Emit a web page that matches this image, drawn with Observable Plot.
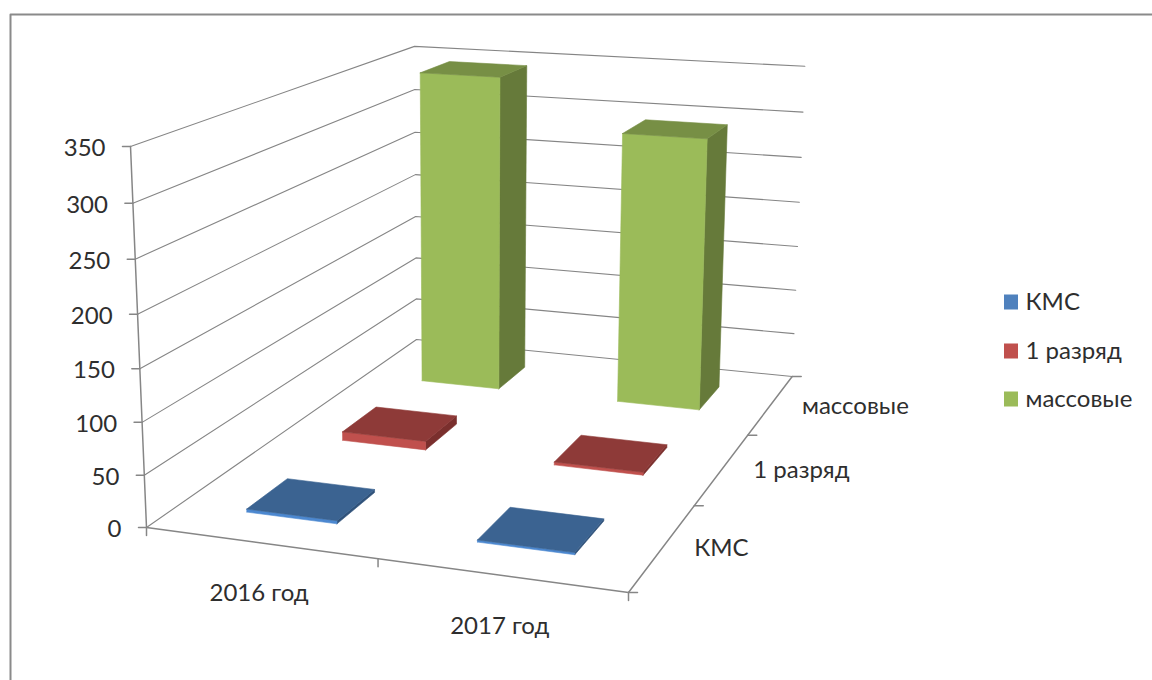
<!DOCTYPE html>
<html>
<head>
<meta charset="utf-8">
<script src="https://cdn.jsdelivr.net/npm/d3@7"></script>
<script src="https://cdn.jsdelivr.net/npm/@observablehq/plot@0.6"></script>
<style>html,body{margin:0;padding:0;background:#fff}svg{display:block}</style>
</head>
<body>
<div id="chart"></div>
<script>
// Data
const years = ["2016 год", "2017 год"];
const series = ["КМС", "1 разряд", "массовые"];
const kms = [3, 2];
const razryad = [9, 3];
const massovye = [345, 293];
const valueTicks = [0, 50, 100, 150, 200, 250, 300, 350];
const valueMax = 350;
const values = [kms, razryad, massovye];

// Styling
const faceColors = [
  {top: "#3b6391", front: "#4c88d0", side: "#30527a", key: "#4f81bd"},
  {top: "#8e3a38", front: "#c0504d", side: "#7a2f2d", key: "#c0504d"},
  {top: "#778f45", front: "#9bbb59", side: "#667a3a", key: "#9bbb59"}
];
const ink = "#2e2e2e";
const lineGrey = "#858585";
const font = "Lato, 'Open Sans', sans-serif";
const fontSize = 24;

// Camera: floor corners and the vanishing point of the vertical axis, in page pixels
const [p0, p1, p2, p3] = [[146, 527], [628, 592], [791.7, 376], [416, 339]];
const vanish = [470, 8250];
const frontTopY = 146;

const dx1 = p1[0] - p2[0], dx2 = p3[0] - p2[0], sx = p0[0] - p1[0] + p2[0] - p3[0];
const dy1 = p1[1] - p2[1], dy2 = p3[1] - p2[1], sy = p0[1] - p1[1] + p2[1] - p3[1];
const den = dx1 * dy2 - dx2 * dy1;
const g = (sx * dy2 - dx2 * sy) / den, h = (dx1 * sy - sx * dy1) / den;
const a = p1[0] - p0[0] + g * p1[0], b = p3[0] - p0[0] + h * p3[0];
const d = p1[1] - p0[1] + g * p1[1], e = p3[1] - p0[1] + h * p3[1];
const k = (frontTopY - p0[1]) / (vanish[1] - frontTopY);

function project(u, v, value) {
  const t = value / valueMax;
  const w = g * u + h * v + 1 + t * k;
  return {
    x: (a * u + b * v + p0[0] + t * k * vanish[0]) / w,
    y: (d * u + e * v + p0[1] + t * k * vanish[1]) / w
  };
}

const uBand = d3.scaleBand(years, [0, 1]).paddingInner(0.6).paddingOuter(0.3);
const vBand = d3.scaleBand(series, [0, 1]).paddingInner(0.6).paddingOuter(0.3);

const marks = [];
const path = (pts, opts) => marks.push(Plot.line(pts, {x: "x", y: "y", ...opts}));
const face = (pts, fill) => path([...pts, pts[0]], {fill, stroke: fill, strokeWidth: 0.6});
const shift = (p, ox, oy) => ({x: p.x + ox, y: p.y + oy});

// Chart frame
path([{x: 1152, y: 14}, {x: 10, y: 14}, {x: 10, y: 680}], {stroke: "#8a8a8a", strokeWidth: 2});

// Walls' gridlines
for (const val of valueTicks) {
  path([project(0, 0, val), project(0, 1, val), project(1, 1, val)], {stroke: lineGrey, strokeWidth: 1.1});
}

// Axes and ticks
const axisStyle = {stroke: "#868686", strokeWidth: 1.5};
path([project(0, 0, valueMax), project(0, 0, 0), project(1, 0, 0), project(1, 1, 0)], axisStyle);
for (const val of valueTicks) {
  const p = project(0, 0, val);
  path([p, shift(p, -8, 0)], axisStyle);
}
for (const u of [0, 0.5, 1]) {
  const p = project(u, 0, 0);
  path([p, shift(p, 0, 8)], axisStyle);
}
for (const v of [0, 1 / 3, 2 / 3, 1]) {
  const p = project(1, v, 0);
  path([p, shift(p, 9, 0)], axisStyle);
}

// Bars, back row first
d3.range(series.length).reverse().forEach(si => {
  years.forEach((yr, yi) => {
    const u0 = uBand(yr), u1 = u0 + uBand.bandwidth();
    const v0 = vBand(series[si]), v1 = v0 + vBand.bandwidth();
    const val = values[si][yi];
    const c = faceColors[si];
    face([project(u1, v0, 0), project(u1, v1, 0), project(u1, v1, val), project(u1, v0, val)], c.side);
    face([project(u0, v0, 0), project(u1, v0, 0), project(u1, v0, val), project(u0, v0, val)], c.front);
    face([project(u0, v0, val), project(u1, v0, val), project(u1, v1, val), project(u0, v1, val)], c.top);
  });
});

// Text labels
const textOpts = {x: "x", y: "y", text: "label", fontSize, fontFamily: font, fill: ink, lineAnchor: "middle"};
const valueLabels = valueTicks.map(val => ({...shift(project(0, 0, val), -25, 2), label: String(val)}));
marks.push(Plot.text(valueLabels, {...textOpts, textAnchor: "end"}));
const yearLabels = years.map(yr => ({...shift(project(uBand(yr) + uBand.bandwidth() / 2, 0, 0), -1, 51), label: yr}));
marks.push(Plot.text(yearLabels, {...textOpts, textAnchor: "middle"}));
const seriesLabels = series.map(s => ({...shift(project(1, vBand(s) + vBand.bandwidth() / 2, 0), 31, 2), label: s}));
marks.push(Plot.text(seriesLabels, {...textOpts, textAnchor: "start"}));

// Legend
const legendY = [302, 351, 399];
const legend = series.map((s, i) => ({label: s, y: legendY[i], color: faceColors[i].key}));
marks.push(Plot.rect(legend, {x1: () => 1004, x2: () => 1018, y1: l => l.y - 7.5, y2: l => l.y + 7.5, fill: "color"}));
marks.push(Plot.text(legend, {...textOpts, x: () => 1025, textAnchor: "start"}));

const chart = Plot.plot({
  width: 1152, height: 680,
  margin: 0,
  style: {background: "#fff"},
  x: {type: "linear", domain: [0, 1152], range: [0, 1152], axis: null},
  y: {type: "linear", domain: [0, 680], range: [0, 680], axis: null},
  color: {type: "identity"},
  marks
});
document.getElementById("chart").append(chart);
</script>
</body>
</html>
